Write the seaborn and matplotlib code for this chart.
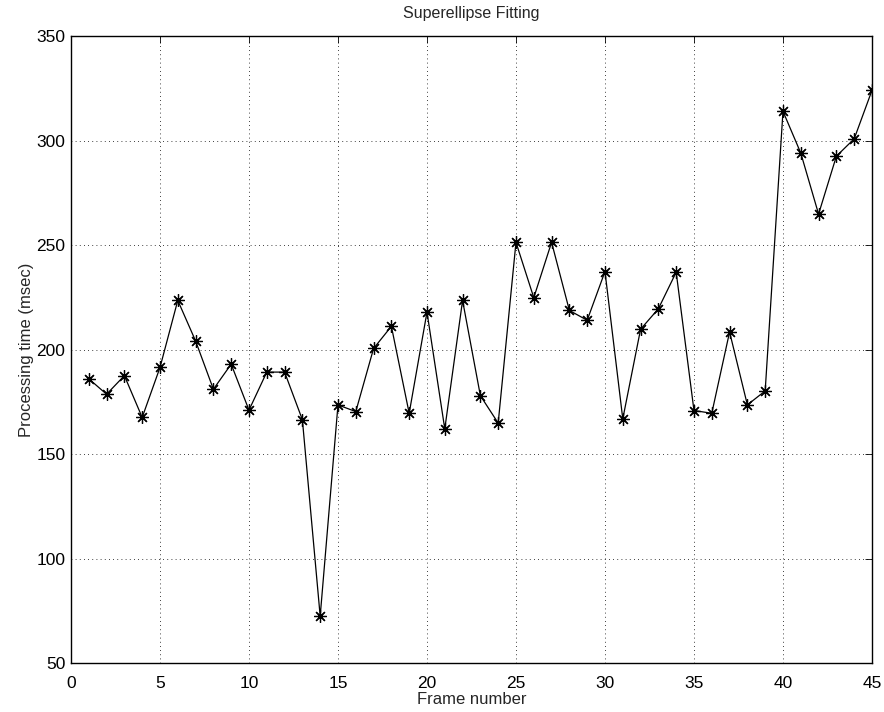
import numpy as np
import pandas as pd
import matplotlib
matplotlib.use('Agg')
import matplotlib.pyplot as plt
import seaborn as sns

frames = list(range(1, 46))
times = [186, 178.6, 187.5, 167.5, 191.4, 223.5, 204.1, 181, 193, 171,
         189.2, 189.2, 166.4, 72.4, 173.5, 170.3, 200.5, 211.1, 169.5, 217.9,
         162, 223.5, 177.9, 164.8, 251.3, 224.8, 251.3, 218.7, 214, 237.3,
         166.8, 209.7, 219.5, 237, 170.8, 169.5, 208.4, 173.5, 180.2, 314,
         294, 264.8, 292.5, 300.8, 324]

df = pd.DataFrame({'Frame number': frames, 'Processing time (msec)': times})

sns.set_style('white')
plt.rcParams['font.family'] = ['Liberation Sans', 'DejaVu Sans']

fig = plt.figure(figsize=(8.84, 7.12), dpi=100)
ax = fig.add_axes([0.0803, 0.0688, 0.9061, 0.8806])

sns.lineplot(
    data=df,
    x='Frame number',
    y='Processing time (msec)',
    color='black',
    linewidth=0.9,
    marker=(8, 2, 0),
    markersize=9,
    markeredgecolor='black',
    markeredgewidth=0.9,
    ax=ax
)

ax.set_xlim(0, 45)
ax.set_ylim(50, 350)
ax.set_xticks(np.arange(0, 46, 5))
ax.set_yticks(np.arange(50, 351, 50))
ax.grid(True, linestyle=(0, (1, 4)), color='black', linewidth=0.6)
ax.tick_params(direction='in', top=True, right=True, length=5, width=0.6,
               labelsize=12.5, colors='black')
ax.tick_params(axis='x', pad=9)
ax.tick_params(axis='y', pad=4)
for s in ax.spines.values():
    s.set_color('black')
    s.set_linewidth(1.0)

ax.set_xlabel('Frame number', fontsize=12, labelpad=1)
ax.set_ylabel('Processing time (msec)', fontsize=12, labelpad=2)
ax.set_title('Superellipse Fitting', fontsize=11.5, pad=13)

fig.savefig('out.png', dpi=100)
